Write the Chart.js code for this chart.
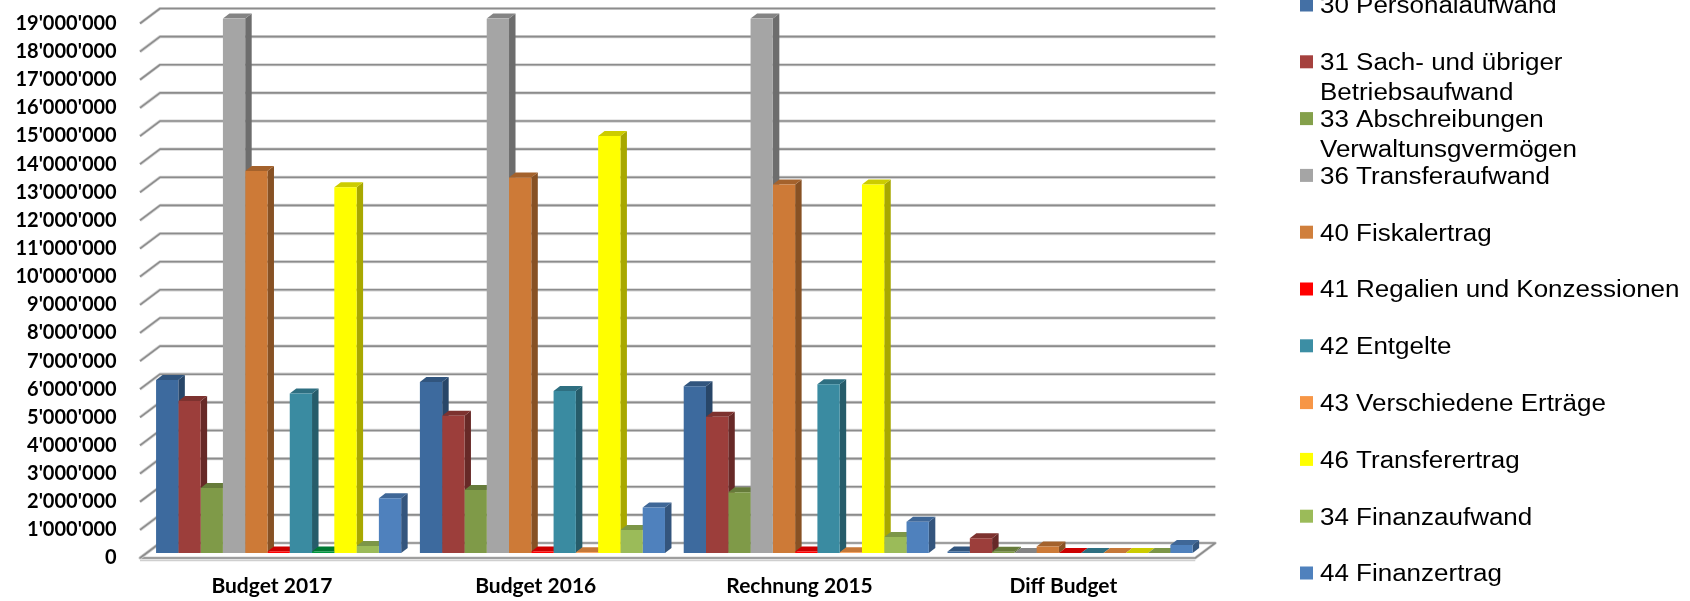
<!DOCTYPE html>
<html>
<head>
<meta charset="utf-8">
<script src="https://cdn.jsdelivr.net/npm/chart.js@4.4.1/dist/chart.umd.min.js"></script>
<style>
  html, body { margin: 0; padding: 0; background: #fff; }
  #wrap { position: relative; width: 1690px; height: 601px; }
</style>
</head>
<body>
<div id="wrap"><canvas id="c"></canvas></div>
<script>
// ---------- data ----------
const categories = ['Budget 2017', 'Budget 2016', 'Rechnung 2015', 'Diff Budget'];
const seriesNames = [
  '30 Personalaufwand',
  '31 Sach- und übriger Betriebsaufwand',
  '33 Abschreibungen Verwaltunsgvermögen',
  '36 Transferaufwand',
  '40 Fiskalertrag',
  '41 Regalien und Konzessionen',
  '42 Entgelte',
  '43 Verschiedene Erträge',
  '46 Transferertrag',
  '34 Finanzaufwand',
  '44 Finanzertrag'
];
const personalaufwand30   = [6150000, 6080000, 5930000, 50000];
const sachaufwand31       = [5400000, 4880000, 4840000, 520000];
const abschreibungen33    = [2310000, 2240000, 2160000, 40000];
const transferaufwand36   = [19000000, 19000000, 19000000, 0];
const fiskalertrag40      = [13580000, 13350000, 13100000, 230000];
const regalien41          = [50000, 50000, 50000, 0];
const entgelte42          = [5670000, 5760000, 6000000, 0];
const verschiedene43      = [50000, 30000, 30000, 0];
const transferertrag46    = [13000000, 14820000, 13100000, 0];
const finanzaufwand34     = [250000, 820000, 570000, 0];
const finanzertrag44      = [1950000, 1620000, 1110000, 280000];
const yTickLabels = ["0","1'000'000","2'000'000","3'000'000","4'000'000","5'000'000","6'000'000",
  "7'000'000","8'000'000","9'000'000","10'000'000","11'000'000","12'000'000","13'000'000",
  "14'000'000","15'000'000","16'000'000","17'000'000","18'000'000","19'000'000"];

const seriesValues = [personalaufwand30, sachaufwand31, abschreibungen33, transferaufwand36,
  fiskalertrag40, regalien41, entgelte42, verschiedene43, transferertrag46, finanzaufwand34, finanzertrag44];
const seriesColors = ['#3d6a9e', '#9c3e3b', '#7f9a48', '#a5a5a5', '#cd7a37', '#ff0000',
  '#3a8ba1', ['#00963f', '#f79646', '#f79646', '#f79646'], '#ffff00', '#9bbb59', '#4f81bd'];
const legendColors = ['#4470a5', '#a5413e', '#84a04b', '#a5a5a5', '#d07f3c', '#ff0000',
  '#3c8ea4', '#f79646', '#ffff00', '#9bbb59', '#4f81bd'];

// ---------- helpers ----------
function shade(hex, f) {
  const n = parseInt(hex.slice(1), 16);
  const r = Math.round(((n >> 16) & 255) * f), g = Math.round(((n >> 8) & 255) * f), b = Math.round((n & 255) * f);
  return `rgb(${r},${g},${b})`;
}
function colorAt(c, j) { return Array.isArray(c) ? c[j] : c; }

const BAR_D = { dx: 6.5, dy: -5 };                       // depth of each bar
const WALL = { fx: -6.7, fy: 5, bx: 13.3, by: -10 };     // front / back planes relative to bar plane

const threeD = {
  id: 'threeD',
  beforeDatasetsDraw(chart) {
    const { ctx, chartArea: a } = chart;
    const ys = chart.scales.y;
    const y0 = ys.getPixelForValue(0);
    ctx.save();
    // floor
    ctx.beginPath();
    ctx.moveTo(a.left + WALL.bx, y0 + WALL.by);
    ctx.lineTo(a.right + WALL.bx, y0 + WALL.by);
    ctx.lineTo(a.right + WALL.fx, y0 + WALL.fy);
    ctx.lineTo(a.left + WALL.fx, y0 + WALL.fy);
    ctx.closePath();
    ctx.fillStyle = '#ffffff';
    ctx.fill();
    ctx.lineJoin = 'round';
    ctx.strokeStyle = '#d6d6d6'; ctx.lineWidth = 3.2; ctx.stroke();
    ctx.strokeStyle = '#8c8c8c'; ctx.lineWidth = 1.6; ctx.stroke();
    ctx.beginPath();
    ctx.moveTo(a.left + WALL.fx, y0 + WALL.fy + 2.5);
    ctx.lineTo(a.right + WALL.fx, y0 + WALL.fy + 2.5);
    ctx.strokeStyle = '#cfcfcf'; ctx.lineWidth = 1.5; ctx.stroke();
    // gridlines (back wall + left side wall)
    ys.ticks.forEach(t => {
      const py = ys.getPixelForValue(t.value);
      ctx.beginPath();
      ctx.moveTo(a.left + WALL.fx, py + WALL.fy);
      ctx.lineTo(a.left + WALL.bx, py + WALL.by);
      if (t.value !== 0) ctx.lineTo(a.right + WALL.bx, py + WALL.by);
      ctx.strokeStyle = '#d3d3d3'; ctx.lineWidth = 3.2; ctx.stroke();
      ctx.strokeStyle = '#8c8c8c'; ctx.lineWidth = 1.6; ctx.stroke();
    });
    // bar side faces, then top faces
    const bars = [];
    chart.data.datasets.forEach((ds, i) => {
      const meta = chart.getDatasetMeta(i);
      meta.data.forEach((el, j) => {
        const p = el.getProps(['x', 'y', 'base', 'width'], true);
        bars.push({ p, col: colorAt(ds.backgroundColor, j) });
      });
    });
    bars.forEach(({ p, col }) => {
      const xr = p.x + p.width / 2;
      ctx.beginPath();
      ctx.moveTo(xr, p.y);
      ctx.lineTo(xr + BAR_D.dx, p.y + BAR_D.dy);
      ctx.lineTo(xr + BAR_D.dx, p.base + BAR_D.dy);
      ctx.lineTo(xr, p.base);
      ctx.closePath();
      ctx.fillStyle = shade(col, 0.66);
      ctx.fill();
    });
    bars.forEach(({ p, col }) => {
      const xl = p.x - p.width / 2, xr = p.x + p.width / 2;
      ctx.beginPath();
      ctx.moveTo(xl, p.y);
      ctx.lineTo(xl + BAR_D.dx, p.y + BAR_D.dy);
      ctx.lineTo(xr + BAR_D.dx, p.y + BAR_D.dy);
      ctx.lineTo(xr, p.y);
      ctx.closePath();
      ctx.fillStyle = shade(col, 0.8);
      ctx.fill();
    });
    ctx.restore();
  }
};

const sideLegend = {
  id: 'sideLegend',
  afterDraw(chart) {
    const ctx = chart.ctx;
    const fs = 23.5, sx = 1.105, maxW = 333;
    ctx.save();
    ctx.font = `${fs}px "Liberation Sans", Arial, sans-serif`;
    ctx.textBaseline = 'alphabetic';
    ctx.fillStyle = '#000';
    chart.data.datasets.forEach((ds, i) => {
      const yc = 5 + 56.8 * i;
      ctx.fillStyle = legendColors[i];
      ctx.fillRect(1300, yc - 6.5, 13, 13);
      ctx.fillStyle = '#000';
      const words = ds.label.split(' ');
      const lines = [];
      let cur = '';
      words.forEach(w => {
        const test = cur ? cur + ' ' + w : w;
        if (ctx.measureText(test).width > maxW && cur) { lines.push(cur); cur = w; } else cur = test;
      });
      if (cur) lines.push(cur);
      lines.forEach((ln, k) => {
        ctx.save();
        ctx.translate(1320, yc + 8.4 + k * 30);
        ctx.scale(sx, 1);
        ctx.fillText(ln, 0, 0);
        ctx.restore();
      });
    });
    ctx.restore();
  }
};

function build() {
  const datasets = seriesNames.map((name, i) => ({
    label: name,
    data: seriesValues[i],
    backgroundColor: seriesColors[i],
    borderWidth: 0,
    barPercentage: 1.0,
    categoryPercentage: 0.929
  }));
  new Chart(document.getElementById('c'), {
    type: 'bar',
    data: { labels: categories, datasets },
    options: {
      responsive: true,
      maintainAspectRatio: false,
      animation: false,
      events: [],
      layout: { padding: { left: 0, right: 488, top: 18.5, bottom: 0 } },
      plugins: { legend: { display: false }, tooltip: { enabled: false } },
      scales: {
        x: {
          grid: { display: false, drawTicks: false },
          border: { display: false },
          ticks: { color: '#000', font: { family: 'Lato', weight: 'bold', size: 21 }, padding: 21, labelOffset: -6.7, maxRotation: 0 },
          afterFit(s) { s.height = 48; s.paddingLeft = 0; s.paddingRight = 0; }
        },
        y: {
          min: 0, max: 19000000,
          grid: { display: false, drawTicks: false },
          border: { display: false },
          ticks: {
            stepSize: 1000000, color: '#000', autoSkip: false,
            font: { family: 'Lato', weight: 'bold', size: 20 },
            padding: 30, labelOffset: 5,
            callback: (v, idx) => yTickLabels[idx]
          },
          afterFit(s) { s.width = 146.7; s.paddingTop = 0; s.paddingBottom = 0; }
        }
      }
    },
    plugins: [threeD, sideLegend]
  });
}

Promise.all([
  document.fonts.load('bold 20px Lato'),
  document.fonts.load('23.5px "Liberation Sans"')
]).then(build, build);
</script>
</body>
</html>
